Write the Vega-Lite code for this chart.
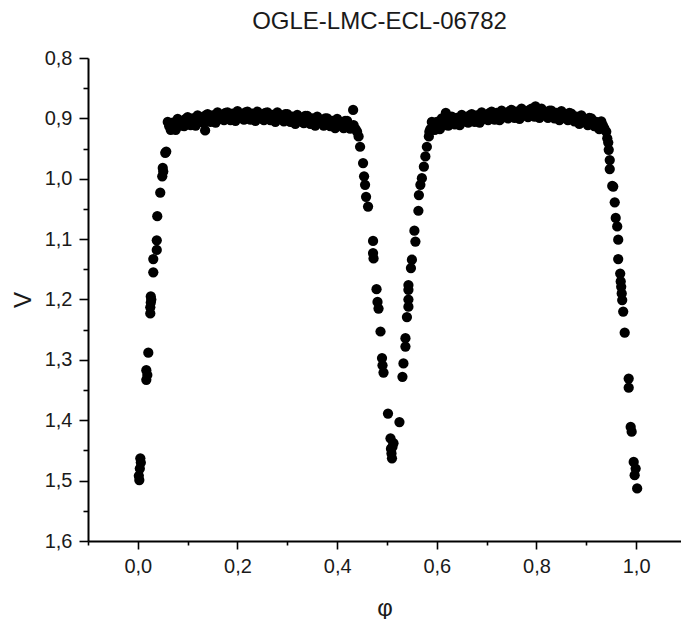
{
  "$schema": "https://vega.github.io/schema/vega-lite/v6.json",
  "width": 593,
  "height": 483,
  "autosize": "none",
  "padding": {"left": 88, "top": 58, "right": 0, "bottom": 78},
  "background": "white",
  "title": {"text": "OGLE-LMC-ECL-06782", "anchor": "middle", "dx": -5, "offset": 14, "fontSize": 24, "font": "Liberation Sans", "fontWeight": "normal", "color": "#1a1a1a"},
  "config": {
    "view": {"stroke": null},
    "axis": {"domainColor": "black", "domainWidth": 2, "tickColor": "black", "tickWidth": 1.6, "labelFont": "Liberation Sans", "labelFontSize": 20, "labelColor": "#1a1a1a", "titleFont": "Liberation Sans", "titleFontSize": 24, "titleFontWeight": "normal", "titleColor": "#1a1a1a", "grid": false}
  },
  "data": {"values": [
    {"phi":0.002,"V":1.492},{"phi":0.003,"V":1.499},{"phi":0.004,"V":1.480},{"phi":0.005,"V":1.463},{"phi":0.006,"V":1.470},
    {"phi":0.017,"V":1.317},{"phi":0.017,"V":1.333},{"phi":0.019,"V":1.325},{"phi":0.021,"V":1.288},
    {"phi":0.025,"V":1.213},{"phi":0.025,"V":1.223},{"phi":0.026,"V":1.195},{"phi":0.026,"V":1.205},{"phi":0.027,"V":1.200},
    {"phi":0.031,"V":1.133},{"phi":0.031,"V":1.155},{"phi":0.038,"V":1.102},{"phi":0.038,"V":1.118},{"phi":0.039,"V":1.062},
    {"phi":0.045,"V":1.023},{"phi":0.049,"V":0.996},{"phi":0.050,"V":0.982},{"phi":0.051,"V":0.988},{"phi":0.055,"V":0.957},{"phi":0.057,"V":0.955},
    {"phi":0.060,"V":0.906},{"phi":0.063,"V":0.913},{"phi":0.066,"V":0.919},
    {"phi":0.070,"V":0.907},{"phi":0.073,"V":0.915},{"phi":0.076,"V":0.919},
    {"phi":0.080,"V":0.901},{"phi":0.083,"V":0.907},{"phi":0.086,"V":0.912},
    {"phi":0.090,"V":0.904},{"phi":0.093,"V":0.913},{"phi":0.096,"V":0.901},
    {"phi":0.100,"V":0.898},{"phi":0.103,"V":0.905},{"phi":0.106,"V":0.911},
    {"phi":0.110,"V":0.900},{"phi":0.113,"V":0.908},{"phi":0.116,"V":0.912},
    {"phi":0.120,"V":0.895},{"phi":0.123,"V":0.901},{"phi":0.126,"V":0.906},
    {"phi":0.130,"V":0.898},{"phi":0.133,"V":0.907},{"phi":0.136,"V":0.895},
    {"phi":0.140,"V":0.893},{"phi":0.143,"V":0.900},{"phi":0.146,"V":0.906},
    {"phi":0.150,"V":0.895},{"phi":0.153,"V":0.903},{"phi":0.156,"V":0.907},
    {"phi":0.160,"V":0.890},{"phi":0.163,"V":0.896},{"phi":0.166,"V":0.901},
    {"phi":0.170,"V":0.894},{"phi":0.173,"V":0.903},{"phi":0.176,"V":0.891},
    {"phi":0.180,"V":0.890},{"phi":0.183,"V":0.897},{"phi":0.186,"V":0.903},
    {"phi":0.190,"V":0.892},{"phi":0.193,"V":0.900},{"phi":0.196,"V":0.904},
    {"phi":0.200,"V":0.888},{"phi":0.203,"V":0.894},{"phi":0.206,"V":0.899},
    {"phi":0.210,"V":0.893},{"phi":0.213,"V":0.902},{"phi":0.216,"V":0.890},
    {"phi":0.220,"V":0.889},{"phi":0.223,"V":0.896},{"phi":0.226,"V":0.902},
    {"phi":0.230,"V":0.892},{"phi":0.233,"V":0.900},{"phi":0.236,"V":0.904},
    {"phi":0.240,"V":0.889},{"phi":0.243,"V":0.895},{"phi":0.246,"V":0.900},
    {"phi":0.250,"V":0.894},{"phi":0.253,"V":0.903},{"phi":0.256,"V":0.891},
    {"phi":0.260,"V":0.890},{"phi":0.263,"V":0.897},{"phi":0.266,"V":0.903},
    {"phi":0.270,"V":0.894},{"phi":0.273,"V":0.902},{"phi":0.276,"V":0.906},
    {"phi":0.280,"V":0.890},{"phi":0.283,"V":0.896},{"phi":0.286,"V":0.901},
    {"phi":0.290,"V":0.896},{"phi":0.293,"V":0.905},{"phi":0.296,"V":0.893},
    {"phi":0.300,"V":0.893},{"phi":0.303,"V":0.900},{"phi":0.306,"V":0.906},
    {"phi":0.310,"V":0.897},{"phi":0.313,"V":0.905},{"phi":0.316,"V":0.909},
    {"phi":0.320,"V":0.894},{"phi":0.323,"V":0.900},{"phi":0.326,"V":0.905},
    {"phi":0.330,"V":0.899},{"phi":0.333,"V":0.908},{"phi":0.336,"V":0.896},
    {"phi":0.340,"V":0.896},{"phi":0.343,"V":0.903},{"phi":0.346,"V":0.909},
    {"phi":0.350,"V":0.900},{"phi":0.353,"V":0.908},{"phi":0.356,"V":0.912},
    {"phi":0.360,"V":0.897},{"phi":0.363,"V":0.903},{"phi":0.366,"V":0.908},
    {"phi":0.370,"V":0.903},{"phi":0.373,"V":0.912},{"phi":0.376,"V":0.900},
    {"phi":0.380,"V":0.900},{"phi":0.383,"V":0.907},{"phi":0.386,"V":0.913},
    {"phi":0.390,"V":0.904},{"phi":0.393,"V":0.912},{"phi":0.396,"V":0.916},
    {"phi":0.400,"V":0.901},{"phi":0.403,"V":0.907},{"phi":0.406,"V":0.912},
    {"phi":0.410,"V":0.907},{"phi":0.413,"V":0.916},{"phi":0.416,"V":0.904},
    {"phi":0.420,"V":0.904},{"phi":0.423,"V":0.911},{"phi":0.426,"V":0.917},
    {"phi":0.135,"V":0.920},{"phi":0.432,"V":0.886},{"phi":0.430,"V":0.913},{"phi":0.433,"V":0.911},{"phi":0.437,"V":0.918},{"phi":0.440,"V":0.922},
    {"phi":0.443,"V":0.930},{"phi":0.446,"V":0.947},{"phi":0.452,"V":0.974},{"phi":0.454,"V":0.996},{"phi":0.456,"V":1.010},{"phi":0.458,"V":1.030},{"phi":0.462,"V":1.046},
    {"phi":0.472,"V":1.103},{"phi":0.472,"V":1.123},{"phi":0.473,"V":1.132},{"phi":0.479,"V":1.183},{"phi":0.481,"V":1.204},{"phi":0.483,"V":1.215},
    {"phi":0.487,"V":1.253},{"phi":0.490,"V":1.297},{"phi":0.491,"V":1.309},{"phi":0.493,"V":1.321},{"phi":0.502,"V":1.389},
    {"phi":0.507,"V":1.430},{"phi":0.508,"V":1.447},{"phi":0.509,"V":1.455},{"phi":0.510,"V":1.463},{"phi":0.511,"V":1.444},{"phi":0.513,"V":1.438},
    {"phi":0.525,"V":1.403},{"phi":0.531,"V":1.328},{"phi":0.533,"V":1.306},{"phi":0.537,"V":1.278},{"phi":0.537,"V":1.264},{"phi":0.540,"V":1.229},
    {"phi":0.543,"V":1.212},{"phi":0.543,"V":1.200},{"phi":0.543,"V":1.184},{"phi":0.543,"V":1.176},{"phi":0.548,"V":1.148},{"phi":0.550,"V":1.134},
    {"phi":0.557,"V":1.104},{"phi":0.555,"V":1.086},{"phi":0.563,"V":1.053},
    {"phi":0.564,"V":1.027},{"phi":0.567,"V":1.010},{"phi":0.570,"V":0.999},{"phi":0.574,"V":0.980},{"phi":0.577,"V":0.963},{"phi":0.580,"V":0.947},{"phi":0.584,"V":0.930},{"phi":0.585,"V":0.922},{"phi":0.587,"V":0.918},
    {"phi":0.590,"V":0.906},{"phi":0.593,"V":0.913},{"phi":0.596,"V":0.919},
    {"phi":0.600,"V":0.906},{"phi":0.603,"V":0.914},{"phi":0.606,"V":0.918},
    {"phi":0.610,"V":0.900},{"phi":0.613,"V":0.906},{"phi":0.616,"V":0.911},
    {"phi":0.620,"V":0.903},{"phi":0.623,"V":0.912},{"phi":0.626,"V":0.900},
    {"phi":0.630,"V":0.897},{"phi":0.633,"V":0.904},{"phi":0.636,"V":0.910},
    {"phi":0.640,"V":0.899},{"phi":0.643,"V":0.907},{"phi":0.646,"V":0.911},
    {"phi":0.650,"V":0.894},{"phi":0.653,"V":0.900},{"phi":0.656,"V":0.905},
    {"phi":0.660,"V":0.898},{"phi":0.663,"V":0.907},{"phi":0.666,"V":0.895},
    {"phi":0.670,"V":0.893},{"phi":0.673,"V":0.900},{"phi":0.676,"V":0.906},
    {"phi":0.680,"V":0.895},{"phi":0.683,"V":0.903},{"phi":0.686,"V":0.907},
    {"phi":0.690,"V":0.890},{"phi":0.693,"V":0.896},{"phi":0.696,"V":0.901},
    {"phi":0.700,"V":0.894},{"phi":0.703,"V":0.903},{"phi":0.706,"V":0.891},
    {"phi":0.710,"V":0.889},{"phi":0.713,"V":0.896},{"phi":0.716,"V":0.902},
    {"phi":0.720,"V":0.891},{"phi":0.723,"V":0.899},{"phi":0.726,"V":0.903},
    {"phi":0.730,"V":0.887},{"phi":0.733,"V":0.893},{"phi":0.736,"V":0.898},
    {"phi":0.740,"V":0.891},{"phi":0.743,"V":0.900},{"phi":0.746,"V":0.888},
    {"phi":0.750,"V":0.886},{"phi":0.753,"V":0.893},{"phi":0.756,"V":0.899},
    {"phi":0.760,"V":0.889},{"phi":0.763,"V":0.897},{"phi":0.766,"V":0.901},
    {"phi":0.770,"V":0.884},{"phi":0.773,"V":0.890},{"phi":0.776,"V":0.895},
    {"phi":0.780,"V":0.889},{"phi":0.783,"V":0.898},{"phi":0.786,"V":0.886},
    {"phi":0.790,"V":0.884},{"phi":0.793,"V":0.891},{"phi":0.796,"V":0.897},
    {"phi":0.800,"V":0.887},{"phi":0.803,"V":0.895},{"phi":0.806,"V":0.899},
    {"phi":0.810,"V":0.884},{"phi":0.813,"V":0.890},{"phi":0.816,"V":0.895},
    {"phi":0.820,"V":0.890},{"phi":0.823,"V":0.899},{"phi":0.826,"V":0.887},
    {"phi":0.830,"V":0.887},{"phi":0.833,"V":0.894},{"phi":0.836,"V":0.900},
    {"phi":0.840,"V":0.891},{"phi":0.843,"V":0.899},{"phi":0.846,"V":0.903},
    {"phi":0.850,"V":0.888},{"phi":0.853,"V":0.894},{"phi":0.856,"V":0.899},
    {"phi":0.860,"V":0.894},{"phi":0.863,"V":0.903},{"phi":0.866,"V":0.891},
    {"phi":0.870,"V":0.892},{"phi":0.873,"V":0.899},{"phi":0.876,"V":0.905},
    {"phi":0.880,"V":0.897},{"phi":0.883,"V":0.905},{"phi":0.886,"V":0.909},
    {"phi":0.890,"V":0.895},{"phi":0.893,"V":0.901},{"phi":0.896,"V":0.906},
    {"phi":0.900,"V":0.902},{"phi":0.903,"V":0.911},{"phi":0.906,"V":0.899},
    {"phi":0.910,"V":0.900},{"phi":0.913,"V":0.907},{"phi":0.916,"V":0.913},
    {"phi":0.920,"V":0.906},{"phi":0.923,"V":0.914},{"phi":0.926,"V":0.918},
    {"phi":0.930,"V":0.905},{"phi":0.933,"V":0.911},{"phi":0.936,"V":0.916},
    {"phi":0.618,"V":0.891},{"phi":0.798,"V":0.880},{"phi":0.940,"V":0.922},{"phi":0.942,"V":0.933},{"phi":0.944,"V":0.940},
    {"phi":0.945,"V":0.952},{"phi":0.947,"V":0.969},{"phi":0.947,"V":0.984},{"phi":0.952,"V":1.012},{"phi":0.954,"V":1.013},{"phi":0.957,"V":1.039},
    {"phi":0.959,"V":1.065},{"phi":0.962,"V":1.079},{"phi":0.964,"V":1.101},{"phi":0.964,"V":1.133},{"phi":0.968,"V":1.157},{"phi":0.969,"V":1.170},
    {"phi":0.970,"V":1.179},{"phi":0.971,"V":1.190},{"phi":0.972,"V":1.201},{"phi":0.974,"V":1.220},{"phi":0.977,"V":1.255},
    {"phi":0.985,"V":1.331},{"phi":0.985,"V":1.346},{"phi":0.989,"V":1.411},{"phi":0.991,"V":1.419},{"phi":0.995,"V":1.469},{"phi":0.997,"V":1.491},{"phi":0.999,"V":1.480},{"phi":1.002,"V":1.513}
  ]},
  "mark": {"type": "circle", "color": "black", "opacity": 1, "size": 105},
  "encoding": {
    "x": {"field": "phi", "type": "quantitative", "title": "φ",
      "scale": {"domain": [-0.1, 1.09], "nice": false, "zero": false},
      "axis": {"values": [-0.1, 0, 0.1, 0.2, 0.3, 0.4, 0.5, 0.6, 0.7, 0.8, 0.9, 1.0],
        "labelExpr": "abs(datum.value*5 - round(datum.value*5)) < 0.01 ? replace(format(datum.value, '.1f'), '.', ',') : ''",
        "tickSize": {"condition": {"test": "abs(datum.value*5 - round(datum.value*5)) < 0.01", "value": 8}, "value": 4},
        "labelPadding": 7, "titlePadding": 20, "labelFlush": false}},
    "y": {"field": "V", "type": "quantitative", "title": "V",
      "scale": {"domain": [0.8, 1.6], "reverse": true, "nice": false, "zero": false},
      "axis": {"values": [0.8, 0.85, 0.9, 0.95, 1.0, 1.05, 1.1, 1.15, 1.2, 1.25, 1.3, 1.35, 1.4, 1.45, 1.5, 1.55, 1.6],
        "labelExpr": "abs(datum.value*10 - round(datum.value*10)) < 0.01 ? replace(format(datum.value, '.1f'), '.', ',') : ''",
        "tickSize": {"condition": {"test": "abs(datum.value*10 - round(datum.value*10)) < 0.01", "value": 9}, "value": 5},
        "labelPadding": 7, "titlePadding": 9, "labelFlush": false}}
  }
}
